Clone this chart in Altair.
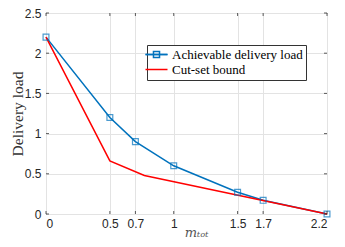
import altair as alt
import pandas as pd

A = "Achievable delivery load"
C = "Cut-set bound"

x_ach = [0, 0.5, 0.7, 1, 1.5, 1.7, 2.2]
y_ach = [2.2, 1.2, 0.9, 0.6, 0.27, 0.17, 0]
x_cut = [0, 0.5, 0.77, 2.2]
y_cut = [2.2, 0.66, 0.48, 0]

x_ticks = [0, 0.5, 0.7, 1, 1.5, 1.7, 2.2]
y_ticks = [0, 0.5, 1, 1.5, 2, 2.5]

df = pd.DataFrame(
    [{"x": a, "y": b, "series": A} for a, b in zip(x_ach, y_ach)]
    + [{"x": a, "y": b, "series": C} for a, b in zip(x_cut, y_cut)]
)
df_ach = df[df.series == A].assign(mk=A)
xt = pd.DataFrame({"t": x_ticks})
yt = pd.DataFrame({"t": y_ticks})

W, H = 281, 201
BLUE, RED = "#0072BD", "#FF0000"
SERIF = "Liberation Serif, Times New Roman, serif"

xs = alt.Scale(domain=[0, 2.2], nice=False, zero=False)
ys = alt.Scale(domain=[0, 2.5], nice=False)

x_enc = alt.X(
    "x:Q", scale=xs,
    axis=alt.Axis(values=x_ticks, format="~g", title="mₜₒₜ", titleFont="DejaVu Serif",
                  titleFontStyle="italic", titleFontWeight="normal", titleFontSize=13,
                  titleColor="#555", titleX=150, titleY=22, titleAnchor="middle",
                  titleBaseline="alphabetic", labelPadding=4),
)
y_enc = alt.Y(
    "y:Q", scale=ys,
    axis=alt.Axis(values=y_ticks, format="~g", title="Delivery load", titleFont=SERIF,
                  titleFontWeight="normal", titleFontSize=15.5, titleColor="#333",
                  titleX=-28.5, titleY=H / 2, titleAngle=-90, titleAnchor="middle",
                  titleBaseline="middle", labelPadding=5),
)

LINE_SYM = "M-2,0H2"
SQ_SYM = "M-2,0H2M-0.55,-0.55H0.55V0.55H-0.55Z"
leg_common = dict(
    orient="none", legendX=101, legendY=32, title=None,
    labelFont=SERIF, labelFontSize=13,
    symbolSize=121, symbolStrokeWidth=1.5, symbolFillColor="transparent",
    labelOffset=9, padding=3, rowPadding=1,
)
color = alt.Color(
    "series:N",
    scale=alt.Scale(domain=[A, C], range=[BLUE, RED]),
    sort=[A, C],
    legend=alt.Legend(symbolType=LINE_SYM, labelColor="#000",
                      strokeColor="#333", fillColor="white", zindex=1, **leg_common),
)
shape = alt.Shape(
    "mk:N",
    scale=alt.Scale(domain=[A], range=[SQ_SYM]),
    legend=alt.Legend(labelExpr="' '", labelColor="transparent", symbolStrokeColor=BLUE,
                      zindex=2, **leg_common),
)

lines = alt.Chart(df).mark_line(strokeWidth=1.5).encode(x=x_enc, y=y_enc, color=color)
pts = alt.Chart(df_ach).mark_point(shape="square", filled=False, size=34, strokeWidth=1.2,
                                   color=BLUE).encode(x="x:Q", y="y:Q")
pts_leg = alt.Chart(df_ach).mark_point(opacity=0).encode(x="x:Q", y="y:Q", shape=shape)

tick_style = dict(color="#333", strokeWidth=0.8)
xb = alt.Chart(xt).mark_rule(**tick_style).encode(x=alt.X("t:Q", scale=xs), y=alt.value(H), y2=alt.value(H - 3))
xtop = alt.Chart(xt).mark_rule(**tick_style).encode(x=alt.X("t:Q", scale=xs), y=alt.value(0), y2=alt.value(3))
yl = alt.Chart(yt).mark_rule(**tick_style).encode(y=alt.Y("t:Q", scale=ys), x=alt.value(0), x2=alt.value(3))
yr = alt.Chart(yt).mark_rule(**tick_style).encode(y=alt.Y("t:Q", scale=ys), x=alt.value(W), x2=alt.value(W - 3))

chart = alt.layer(lines, pts, pts_leg, xb, xtop, yl, yr).properties(
    width=W, height=H,
    autosize=alt.AutoSizeParams(type="none"),
    padding={"left": 38, "top": 5, "right": 10, "bottom": 25},
).configure_view(stroke="#444", strokeWidth=1).configure_axis(
    grid=True, gridColor="#e3e3e3", gridWidth=1, domain=False, ticks=False,
    labelFont="Liberation Sans", labelFontSize=12, labelColor="#262626",
)

chart.save("out.html", embed_options={"renderer": "svg", "actions": False})
